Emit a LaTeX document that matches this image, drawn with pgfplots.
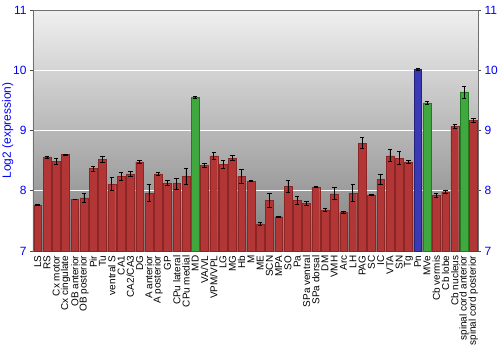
\documentclass[border=0pt]{standalone}
\usepackage{fontspec}
\setmainfont{Liberation Sans}
\usepackage{pgfplots}
\pgfplotsset{compat=1.18}
\definecolor{rdark}{HTML}{8A2626}
\definecolor{rmid}{HTML}{B23636}
\definecolor{gdark}{HTML}{227A22}
\definecolor{gmid}{HTML}{3FA83F}
\definecolor{bdark}{HTML}{22227A}
\definecolor{bmid}{HTML}{3A3AB4}
\definecolor{axgray}{HTML}{707070}
\definecolor{tickblue}{HTML}{0000FF}
\begin{document}
\begin{tikzpicture}
\pgfplotsset{
  common/.style={
    scale only axis, width=445bp, height=241bp,
    xmin=-0.5, xmax=47.5, ymin=7, ymax=11,
    ytick={7,8,9,10,11},
    /pgf/number format/assume math mode=true,
    tick align=outside, major tick length=3bp,
    axis line style={axgray, line width=0.8pt},
    ytick style={black!70, line width=0.8pt},
    yticklabel style={tickblue, font=\fontsize{12}{12}\selectfont},
  }
}
\begin{axis}[common, name=ax,
  axis background/.style={top color=black!6, bottom color=black!50},
  ymajorgrids, grid style={white, line width=1pt},
  ytick pos=left,
  xtick={0,...,47}, xtick style={draw=none},
  xticklabels={LS,RS,Cx motor,Cx cingulate,OB anterior,OB posterior,Pir,Tu,ventral S,CA1,CA2/CA3,DG,A anterior,A posterior,GP,CPu lateral,CPu medial,MD,VA/VL,VPM/VPL,LG,MG,Hb,M,ME,SCN,MPA,SO,Pa,SPa ventral,SPa dorsal,DM,VMH,Arc,LH,PAG,SC,IC,VTA,SN,Tg,Pn,MVe,Cb vermis,Cb lobe,Cb nucleus,spinal cord anterior,spinal cord posterior},
  xticklabel style={rotate=90, anchor=east, font=\fontsize{10}{10}\selectfont, inner sep=1.5pt},
  ylabel={Log2 (expression)},
  ylabel style={tickblue, font=\fontsize{12}{12}\selectfont},
  ylabel shift=-7bp,
  ybar, bar width=0.84, bar shift=0pt,
  error bars/y dir=both, error bars/y explicit,
  error bars/error bar style={black, line width=0.7pt},
  error bars/error mark options={black, line width=0.7pt, rotate=90, mark size=2.2bp},
]
\addplot[draw=rdark, line width=0.3pt, fill=rmid] coordinates {
(0,7.76) +- (0,0.01)
(1,8.55) +- (0,0.02)
(2,8.49) +- (0,0.05)
(3,8.60) +- (0,0.01)
(4,7.86) +- (0,0.005)
(5,7.88) +- (0,0.07)
(6,8.37) +- (0,0.04)
(7,8.52) +- (0,0.05)
(8,8.11) +- (0,0.11)
(9,8.24) +- (0,0.06)
(10,8.28) +- (0,0.035)
(11,8.48) +- (0,0.03)
(12,7.96) +- (0,0.14)
(13,8.28) +- (0,0.03)
(14,8.13) +- (0,0.035)
(15,8.12) +- (0,0.09)
(16,8.24) +- (0,0.14)
(18,8.42) +- (0,0.03)
(19,8.58) +- (0,0.06)
(20,8.44) +- (0,0.07)
(21,8.54) +- (0,0.04)
(22,8.24) +- (0,0.12)
(23,8.16) +- (0,0.01)
(24,7.45) +- (0,0.02)
(25,7.84) +- (0,0.11)
(26,7.57) +- (0,0.01)
(27,8.07) +- (0,0.10)
(28,7.84) +- (0,0.07)
(29,7.79) +- (0,0.03)
(30,8.06) +- (0,0.01)
(31,7.68) +- (0,0.03)
(32,7.95) +- (0,0.10)
(33,7.64) +- (0,0.01)
(34,7.96) +- (0,0.14)
(35,8.79) +- (0,0.09)
(36,7.93) +- (0,0.01)
(37,8.19) +- (0,0.08)
(38,8.58) +- (0,0.10)
(39,8.54) +- (0,0.11)
(40,8.48) +- (0,0.02)
(43,7.92) +- (0,0.03)
(44,7.98) +- (0,0.02)
(45,9.07) +- (0,0.03)
(47,9.17) +- (0,0.036)
};
\addplot[draw=gdark, line width=0.3pt, fill=gmid] coordinates {
(17,9.55) +- (0,0.015)
(42,9.46) +- (0,0.02)
(46,9.64) +- (0,0.10)
};
\addplot[draw=bdark, line width=0.3pt, fill=bmid] coordinates {
(41,10.02) +- (0,0.015)
};
\end{axis}
\begin{axis}[common,
  axis x line=none, axis y line*=right,
  ytick pos=right, yticklabel pos=right,
]
\end{axis}
\pgfresetboundingbox
\path[use as bounding box] ([shift={(-33bp,-99bp)}]ax.south west) rectangle ([shift={(22bp,10bp)}]ax.north east);
\end{tikzpicture}
\end{document}
